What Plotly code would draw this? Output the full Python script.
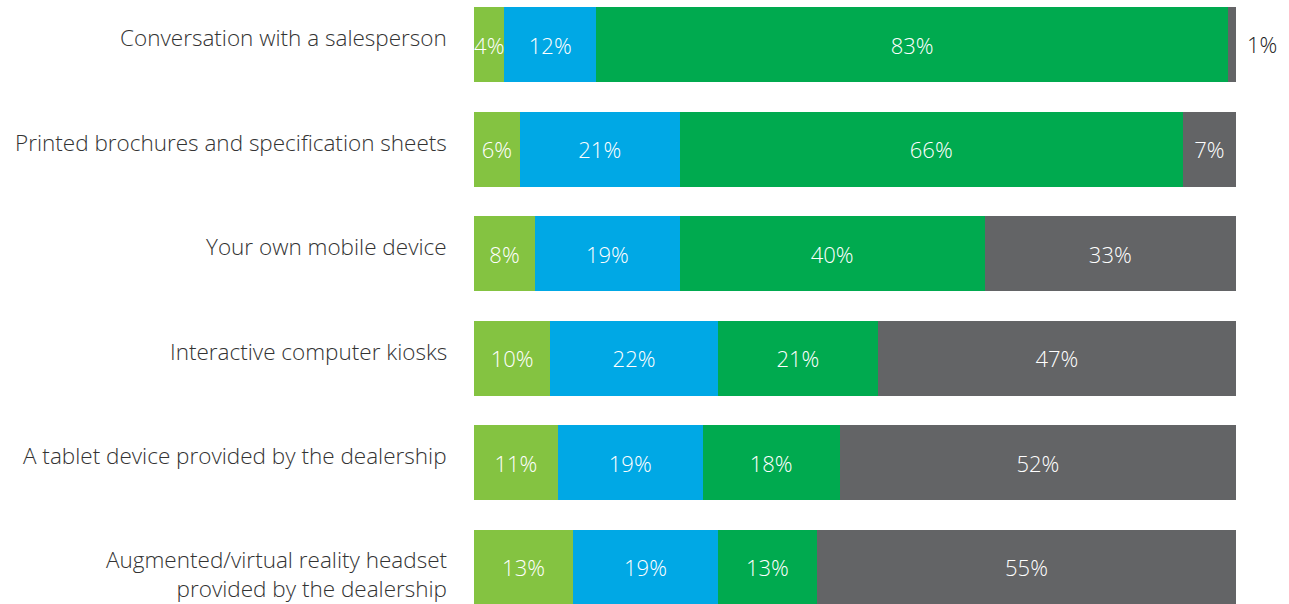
import plotly.graph_objects as go

categories = [
    "Conversation with a salesperson",
    "Printed brochures and specification sheets",
    "Your own mobile device",
    "Interactive computer kiosks",
    "A tablet device provided by the dealership",
    "Augmented/virtual reality headset<br>provided by the dealership",
]

series_a = [4, 6, 8, 10, 11, 13]
series_b = [12, 21, 19, 22, 19, 19]
series_c = [83, 66, 40, 21, 18, 13]
series_d = [1, 7, 33, 47, 52, 55]

colors = ["#84c341", "#00a8e5", "#00aa4f", "#636466"]
all_series = [series_a, series_b, series_c, series_d]

FONT = "Open Sans, Noto Sans, sans-serif"
LABEL_FONT = dict(family=FONT, size=22.5, color="#333333", weight=300)
VALUE_SIZE = 22
SMALL = 3  # segments narrower than this get their label beside the bar

fig = go.Figure()
for idx, (vals, col) in enumerate(zip(all_series, colors)):
    is_last = idx == len(all_series) - 1
    labels = [("" if (is_last and v < SMALL) else f"{v}%") for v in vals]
    fig.add_trace(go.Bar(
        y=categories,
        x=vals,
        orientation="h",
        marker=dict(color=col, line=dict(width=0)),
        text=labels,
        textposition="inside",
        insidetextanchor="middle",
        textangle=0,
        constraintext="none",
        insidetextfont=dict(family=FONT, size=VALUE_SIZE, color="white", weight=300),
        hoverinfo="skip",
        showlegend=False,
    ))

# labels for thin end segments, placed just past the end of the bar
for i, cat in enumerate(categories):
    v = series_d[i]
    if v < SMALL:
        total = series_a[i] + series_b[i] + series_c[i] + series_d[i]
        fig.add_annotation(
            x=total, y=cat, xref="x", yref="y",
            text=f"{v}%", showarrow=False,
            xanchor="left", yanchor="middle", xshift=9, yshift=1,
            font=dict(family=FONT, size=VALUE_SIZE, color="#222222", weight=300),
        )

# category labels, first line set a little above the bar centre
for cat in categories:
    n_lines = cat.count("<br>") + 1
    fig.add_annotation(
        x=0, y=cat, xref="x", yref="y",
        text=cat,
        showarrow=False,
        xanchor="right", yanchor="middle",
        align="right",
        xshift=-25,
        yshift=7 - (n_lines - 1) * 14,
        font=LABEL_FONT,
    )

fig.update_layout(
    barmode="stack",
    bargap=0.283,
    width=1289,
    height=604,
    margin=dict(l=474, r=53, t=0, b=0),
    paper_bgcolor="white",
    plot_bgcolor="white",
    font=dict(family=FONT, size=20, color="#333333"),
    xaxis=dict(range=[0, 100], visible=False, fixedrange=True),
    yaxis=dict(
        type="category",
        range=[5.349, -0.4254],
        showgrid=False,
        zeroline=False,
        showline=False,
        showticklabels=False,
        ticks="",
    ),
)

fig.write_html("out.html")
